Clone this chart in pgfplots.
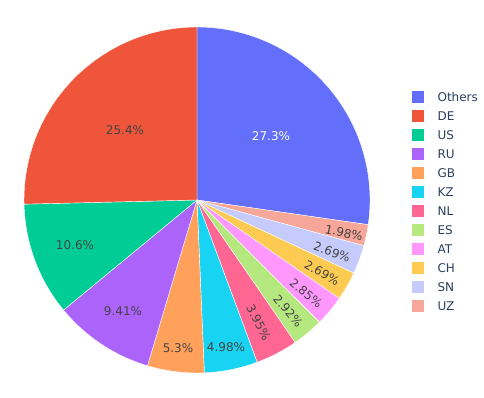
\documentclass[border=0pt]{standalone}
\usepackage{pgfplots}
\pgfplotsset{compat=1.18}
\usepackage{pgfplotstable}
\usepackage{fontspec}
\setmainfont{DejaVu Sans}
\definecolor{c0}{HTML}{636EFA}
\definecolor{c1}{HTML}{EF553B}
\definecolor{c2}{HTML}{00CC96}
\definecolor{c3}{HTML}{AB63FA}
\definecolor{c4}{HTML}{FFA15A}
\definecolor{c5}{HTML}{19D3F3}
\definecolor{c6}{HTML}{FF6692}
\definecolor{c7}{HTML}{B6E880}
\definecolor{c8}{HTML}{FF97FF}
\definecolor{c9}{HTML}{FECB52}
\definecolor{c10}{HTML}{C6CBFD}
\definecolor{c11}{HTML}{F7A799}
\definecolor{legtext}{HTML}{2A3F5F}
\definecolor{labtext}{HTML}{444444}

% slices clockwise from 12 o'clock
\pgfplotstableread{
name   value col
Others 27.3  c0
UZ     1.98  c11
SN     2.69  c10
CH     2.69  c9
AT     2.85  c8
ES     2.92  c7
NL     3.95  c6
KZ     4.98  c5
GB     5.3   c4
RU     9.41  c3
US     10.6  c2
DE     25.4  c1
}\pietable

% legend order
\pgfplotstableread{
name   col
Others c0
DE     c1
US     c2
RU     c3
GB     c4
KZ     c5
NL     c6
ES     c7
AT     c8
CH     c9
SN     c10
UZ     c11
}\legtable

% percentage labels: x y (pixels from top-left), rotation
\pgfplotstableread{
x   y   rot    txt
271 136.5 0      27.3
125 130.5 0      25.4
75  245.5 0      10.6
123 311.5 0      9.41
178 348 0      5.3
226 347.5 0      4.98
258.5 322.5 -62.5  3.95
288 311 -50.2  2.92
306 293 -39.8  2.85
322 273 -29.85 2.69
332 252 -20.2  2.69
344 233 -11.8  1.98
}\labtable

\pgfplotstablegetrowsof{\pietable}
\pgfmathtruncatemacro\nrows{\pgfplotsretval-1}
\def\total{0}
\pgfplotsforeachungrouped \i in {0,...,\nrows}{%
  \pgfplotstablegetelem{\i}{value}\of\pietable
  \pgfmathsetmacro\total{\total+\pgfplotsretval}%
}
\def\cum{0}
\def\piecmds{}
\pgfplotsforeachungrouped \i in {0,...,\nrows}{%
  \pgfplotstablegetelem{\i}{value}\of\pietable\let\v\pgfplotsretval
  \pgfplotstablegetelem{\i}{col}\of\pietable\let\c\pgfplotsretval
  \pgfmathsetmacro\sa{90-\cum/\total*360}%
  \pgfmathsetmacro\cum{\cum+\v}%
  \pgfmathsetmacro\ea{90-\cum/\total*360}%
  \pgfmathsetmacro\sx{197+173*cos(\sa)}%
  \pgfmathsetmacro\sy{198+173*sin(\sa)}%
  \xdef\piecmds{\unexpanded\expandafter{\piecmds}%
    \noexpand\fill[fill=\c, draw=white, line width=0.3pt] (axis cs:197,198) -- (axis cs:\sx,\sy)
      arc[start angle=\sa, end angle=\ea, radius=129.75pt] -- cycle;}%
}
\def\legcmds{}
\pgfplotsforeachungrouped \i in {0,...,11}{%
  \pgfplotstablegetelem{\i}{name}\of\legtable\let\n\pgfplotsretval
  \pgfplotstablegetelem{\i}{col}\of\legtable\let\c\pgfplotsretval
  \pgfmathsetmacro\ly{398-(97+19*\i)}%
  \xdef\legcmds{\unexpanded\expandafter{\legcmds}%
    \noexpand\fill[\c] (axis cs:411.8,\ly-5.6) rectangle (axis cs:423.6,\ly+5.6);
    \noexpand\node[anchor=west, inner sep=0pt, text=legtext, font=\noexpand\fontsize{9pt}{10pt}\noexpand\selectfont] at (axis cs:437.3,\ly) {\n};}%
}
\pgfplotstablegetrowsof{\labtable}
\pgfmathtruncatemacro\nlab{\pgfplotsretval-1}
\def\labcmds{}
\pgfplotsforeachungrouped \i in {0,...,\nlab}{%
  \pgfplotstablegetelem{\i}{x}\of\labtable\let\lx\pgfplotsretval
  \pgfplotstablegetelem{\i}{y}\of\labtable\let\lyy\pgfplotsretval
  \pgfplotstablegetelem{\i}{rot}\of\labtable\let\lr\pgfplotsretval
  \pgfplotstablegetelem{\i}{txt}\of\labtable\let\lt\pgfplotsretval
  \ifnum\i=0 \def\lc{white}\else\def\lc{labtext}\fi
  \pgfmathsetmacro\lyy{398-\lyy}%
  \xdef\labcmds{\unexpanded\expandafter{\labcmds}%
    \noexpand\node[rotate=\lr, inner sep=0pt, text=\lc, font=\noexpand\fontsize{9pt}{10pt}\noexpand\selectfont] at (axis cs:\lx,\lyy) {\lt\noexpand\%};}%
}

\begin{document}
\begin{tikzpicture}
\begin{axis}[
  x=0.75pt, y=0.75pt,
  xmin=0, xmax=484, ymin=0, ymax=398,
  hide axis, clip=false,
]
\fill[white] (axis cs:0,0) rectangle (axis cs:484,398);
\piecmds
\labcmds
\legcmds
\end{axis}
\end{tikzpicture}
\end{document}
